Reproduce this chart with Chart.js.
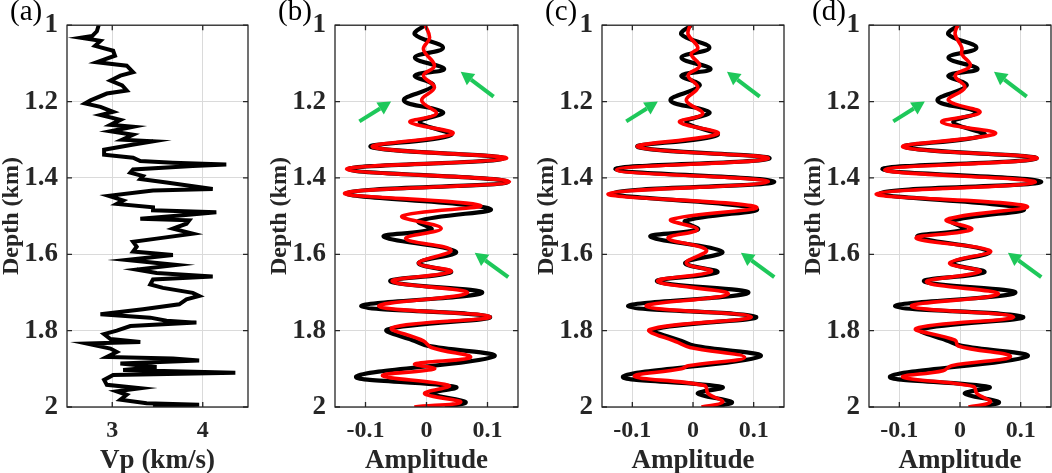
<!DOCTYPE html>
<html>
<head>
<meta charset="utf-8">
<script src="https://cdn.jsdelivr.net/npm/chart.js@4.4.1/dist/chart.umd.min.js"></script>
<style>
  body { margin: 0; background: #fff; }
  #wrap { position: relative; width: 1052px; height: 473px; overflow: hidden; }
  canvas { position: absolute; top: 0; }
</style>
</head>
<body>
<div id="wrap">
  <canvas id="pa"></canvas>
  <canvas id="pb"></canvas>
  <canvas id="pc"></canvas>
  <canvas id="pd"></canvas>
</div>
<script>
// tick labels
var depthTicks = [1, 1.2, 1.4, 1.6, 1.8, 2];
var vpTicks = [3, 4];
var ampTicks = [-0.1, 0, 0.1];

// (a) velocity log
var vpDepth = [1.000, 1.016, 1.028, 1.033, 1.041, 1.054, 1.067, 1.080, 1.097, 1.106,
  1.123, 1.132, 1.145, 1.158, 1.171, 1.179, 1.197, 1.205, 1.214, 1.227,
  1.235, 1.248, 1.261, 1.266, 1.278, 1.287, 1.300, 1.304, 1.313, 1.326,
  1.339, 1.347, 1.356, 1.360, 1.365, 1.369, 1.378, 1.386, 1.395, 1.403,
  1.412, 1.429, 1.433, 1.447, 1.459, 1.468, 1.477, 1.485, 1.490, 1.498,
  1.507, 1.511, 1.520, 1.533, 1.546, 1.559, 1.567, 1.580, 1.593, 1.602,
  1.615, 1.628, 1.640, 1.649, 1.658, 1.666, 1.679, 1.688, 1.701, 1.709,
  1.718, 1.731, 1.744, 1.753, 1.757, 1.766, 1.774, 1.779, 1.788, 1.800,
  1.809, 1.822, 1.830, 1.834, 1.847, 1.856, 1.869, 1.873, 1.878, 1.886,
  1.895, 1.903, 1.910, 1.916, 1.929, 1.942, 1.951, 1.959, 1.968, 1.981,
  1.990, 1.994, 2.000];
var vpValues = [2.85, 2.83, 2.78, 2.65, 2.87, 2.81, 3.01, 3.03, 2.83, 3.16,
  3.23, 3.09, 2.98, 3.11, 3.16, 2.94, 2.76, 2.70, 2.87, 3.01,
  2.87, 3.09, 2.98, 3.23, 2.98, 3.23, 3.11, 3.45, 3.22, 2.91,
  2.91, 3.23, 3.31, 3.67, 4.26, 3.89, 3.23, 3.20, 3.34, 3.31,
  3.60, 4.11, 3.45, 2.96, 3.12, 3.05, 3.45, 3.45, 4.15, 3.78,
  3.31, 3.85, 3.82, 3.67, 3.89, 3.49, 3.23, 3.27, 3.23, 3.67,
  3.16, 3.71, 3.27, 3.49, 4.11, 3.45, 3.42, 3.56, 3.89, 3.96,
  3.82, 3.74, 3.34, 3.01, 2.87, 3.42, 3.60, 3.93, 3.20, 3.05,
  2.91, 2.98, 3.31, 2.72, 2.98, 3.05, 2.94, 3.67, 3.96, 3.09,
  3.49, 3.12, 4.36, 3.01, 2.91, 2.94, 3.31, 3.05, 3.16, 3.09,
  3.38, 3.96, 3.45];

// observed trace (black), same in (b), (c), (d)
var obsDepth = [1.000, 1.024, 1.059, 1.085, 1.115, 1.132, 1.158, 1.197, 1.228, 1.254,
  1.288, 1.319, 1.349, 1.377, 1.410, 1.440, 1.481, 1.513, 1.535, 1.554,
  1.593, 1.623, 1.647, 1.671, 1.701, 1.736, 1.764, 1.797, 1.827, 1.840,
  1.868, 1.920, 1.948, 1.965, 1.987, 2.000];
var obsAmp = [-0.003, -0.019, 0.027, -0.019, 0.029, -0.019, 0.011, -0.037, 0.027, -0.011,
  0.040, -0.091, 0.126, -0.128, 0.134, -0.131, 0.104, -0.013, 0.008, -0.070,
  0.048, -0.013, 0.040, -0.059, 0.091, -0.107, 0.104, -0.064, -0.019, 0.003,
  0.110, -0.115, 0.048, 0.008, 0.064, 0.030];

// predicted traces (red)
var predBDepth = [1.000, 1.033, 1.063, 1.106, 1.132, 1.163, 1.197, 1.232, 1.254, 1.284,
  1.319, 1.349, 1.377, 1.410, 1.440, 1.472, 1.500, 1.532, 1.559, 1.589,
  1.623, 1.645, 1.671, 1.701, 1.736, 1.764, 1.792, 1.827, 1.844, 1.870,
  1.887, 1.900, 1.918, 1.944, 1.965, 1.987, 2.000];
var predBAmp = [-0.002, 0.005, -0.005, 0.013, -0.005, 0.013, -0.008, 0.016, -0.027, 0.043,
  -0.088, 0.131, -0.131, 0.136, -0.134, 0.088, -0.040, 0.024, -0.034, 0.040,
  -0.013, 0.040, -0.056, 0.067, -0.078, 0.104, -0.056, -0.005, 0.008, 0.072,
  -0.019, 0.013, -0.072, 0.037, -0.003, 0.056, -0.020];

var predCDepth = [1.000, 1.024, 1.059, 1.076, 1.106, 1.132, 1.163, 1.197, 1.232, 1.254,
  1.284, 1.319, 1.349, 1.379, 1.410, 1.442, 1.476, 1.509, 1.535, 1.558,
  1.589, 1.623, 1.645, 1.671, 1.704, 1.736, 1.764, 1.797, 1.831, 1.844,
  1.870, 1.892, 1.900, 1.920, 1.944, 1.965, 1.987, 2.000];
var predCAmp = [-0.005, -0.008, 0.008, -0.003, 0.011, -0.008, 0.008, -0.011, 0.016, -0.022,
  0.041, -0.091, 0.124, -0.126, 0.124, -0.140, 0.104, -0.036, 0.007, -0.041,
  0.022, -0.011, 0.030, -0.058, 0.058, -0.077, 0.096, -0.071, -0.025, -0.005,
  0.085, -0.008, -0.019, -0.096, 0.019, 0.025, 0.049, 0.014];

var predDDepth = [1.000, 1.024, 1.059, 1.076, 1.106, 1.132, 1.163, 1.197, 1.228, 1.254,
  1.284, 1.319, 1.349, 1.379, 1.411, 1.442, 1.474, 1.509, 1.535, 1.558,
  1.591, 1.623, 1.645, 1.673, 1.704, 1.736, 1.764, 1.794, 1.825, 1.840,
  1.868, 1.892, 1.905, 1.922, 1.946, 1.965, 1.987, 2.000];
var predDAmp = [-0.004, -0.008, 0.003, 0.003, 0.017, -0.008, 0.008, -0.019, 0.033, -0.030,
  0.058, -0.094, 0.127, -0.124, 0.124, -0.138, 0.110, -0.022, 0.019, -0.072,
  0.050, -0.017, 0.033, -0.055, 0.063, -0.080, 0.088, -0.072, -0.008, -0.003,
  0.083, -0.014, -0.028, -0.094, 0.022, 0.028, 0.050, 0.014];

// green arrows [x tail, depth tail, x head, depth head]
var arrows = [
  [-0.110, 1.252, -0.058, 1.200],
  [0.110, 1.187, 0.056, 1.122],
  [0.134, 1.660, 0.079, 1.596]
];

var serif = '"Liberation Serif", "Times New Roman", serif';

function pts(depth, vals) {
  return depth.map(function(d, i) { return { x: vals[i], y: d }; });
}

function fmt(v) { return String(+v.toFixed(2)); }

// frame, inward ticks, panel letter, arrows
var framePlugin = {
  id: 'frame',
  afterDatasetsDraw: function(chart, args, o) {
    var ctx = chart.ctx, a = chart.chartArea;
    var xs = chart.scales.x, ys = chart.scales.y;
    ctx.save();
    // arrows
    (o.arrows || []).forEach(function(ar) {
      var x0 = xs.getPixelForValue(ar[0]), y0 = ys.getPixelForValue(ar[1]);
      var x1 = xs.getPixelForValue(ar[2]), y1 = ys.getPixelForValue(ar[3]);
      var ang = Math.atan2(y1 - y0, x1 - x0), hl = 13, hw = 7;
      var bx = x1 - hl * Math.cos(ang), by = y1 - hl * Math.sin(ang);
      ctx.strokeStyle = '#1ec85a';
      ctx.fillStyle = '#1ec85a';
      ctx.lineWidth = 4;
      ctx.beginPath(); ctx.moveTo(x0, y0); ctx.lineTo(bx, by); ctx.stroke();
      ctx.beginPath();
      ctx.moveTo(x1, y1);
      ctx.lineTo(bx + hw * Math.sin(ang), by - hw * Math.cos(ang));
      ctx.lineTo(bx - hw * Math.sin(ang), by + hw * Math.cos(ang));
      ctx.closePath(); ctx.fill();
    });
    // box
    ctx.strokeStyle = '#262626';
    ctx.lineWidth = 1.3;
    ctx.strokeRect(a.left, a.top, a.right - a.left, a.bottom - a.top);
    // inward ticks
    ctx.beginPath();
    ys.ticks.forEach(function(t) {
      var y = ys.getPixelForValue(t.value);
      ctx.moveTo(a.left, y); ctx.lineTo(a.left + 5, y);
      ctx.moveTo(a.right, y); ctx.lineTo(a.right - 5, y);
    });
    xs.ticks.forEach(function(t) {
      var x = xs.getPixelForValue(t.value);
      ctx.moveTo(x, a.bottom); ctx.lineTo(x, a.bottom - 5);
      ctx.moveTo(x, a.top); ctx.lineTo(x, a.top + 5);
    });
    ctx.stroke();
    // panel letter
    ctx.fillStyle = '#000';
    ctx.font = '29px ' + serif;
    ctx.textAlign = 'left';
    ctx.textBaseline = 'middle';
    ctx.fillText(o.letter, a.left - 57, 12);
    ctx.restore();
  }
};

function makePanel(id, plotLeft, plotRight, rightPad, xMin, xMax, xTicks, xTitle, datasets, letter, arr) {
  var cv = document.getElementById(id);
  var yAxisW = 67;
  cv.width = plotRight - plotLeft + yAxisW + rightPad;
  cv.height = 473;
  cv.style.left = (plotLeft - yAxisW) + 'px';
  return new Chart(cv, {
    type: 'scatter',
    data: { datasets: datasets },
    options: {
      responsive: false,
      animation: false,
      layout: { padding: { top: 21, right: rightPad, bottom: 0, left: 0 } },
      plugins: { legend: { display: false }, tooltip: { enabled: false }, frame: { letter: letter, arrows: arr } },
      elements: { point: { radius: 0 } },
      scales: {
        x: {
          type: 'linear', min: xMin, max: xMax,
          afterBuildTicks: function(s) { s.ticks = xTicks.map(function(v) { return { value: v }; }); },
          afterFit: function(s) { s.height = 66; },
          grid: { color: '#dadada', lineWidth: 1, drawTicks: false },
          border: { display: false },
          ticks: { padding: 9, color: '#262626', font: { family: serif, size: 24, weight: 'bold' }, callback: fmt, maxRotation: 0 },
          title: { display: true, text: xTitle, color: '#262626', padding: 0, font: { family: serif, size: 27, weight: 'bold', lineHeight: 0.9 } }
        },
        y: {
          type: 'linear', min: 1, max: 2, reverse: true,
          afterBuildTicks: function(s) { s.ticks = depthTicks.map(function(v) { return { value: v }; }); },
          afterFit: function(s) { s.width = yAxisW; },
          grid: { color: '#dadada', lineWidth: 1, drawTicks: false },
          border: { display: false },
          ticks: { padding: 9, color: '#262626', font: { family: serif, size: 27, weight: 'bold' }, callback: fmt },
          title: { display: true, text: 'Depth (km)', color: '#262626', padding: { top: 0, bottom: 0 }, font: { family: serif, size: 24, weight: 'bold', lineHeight: 1 } }
        }
      }
    },
    plugins: [framePlugin]
  });
}

function blackSet(depth, vals, w) {
  return { data: pts(depth, vals), showLine: true, borderColor: '#000', borderWidth: w, tension: 0.4, pointRadius: 0 };
}
function redSet(depth, vals) {
  return { data: pts(depth, vals), showLine: true, borderColor: '#ff0000', borderWidth: 3.6, tension: 0.4, pointRadius: 0 };
}

// red listed first so that it is drawn over the black trace
makePanel('pa', 67, 248, 12, 2.5, 4.5, vpTicks, 'Vp (km/s)',
  [{ data: pts(vpDepth, vpValues), showLine: true, borderColor: '#000', borderWidth: 4, tension: 0, pointRadius: 0 }],
  '(a)', []);
makePanel('pb', 335, 518, 12, -0.15, 0.15, ampTicks, 'Amplitude',
  [redSet(predBDepth, predBAmp), blackSet(obsDepth, obsAmp, 4.2)], '(b)', arrows);
makePanel('pc', 602, 784, 11, -0.15, 0.15, ampTicks, 'Amplitude',
  [redSet(predCDepth, predCAmp), blackSet(obsDepth, obsAmp, 4.2)], '(c)', arrows);
makePanel('pd', 869, 1051, 1, -0.15, 0.15, ampTicks, 'Amplitude',
  [redSet(predDDepth, predDAmp), blackSet(obsDepth, obsAmp, 4.2)], '(d)', arrows);
</script>
</body>
</html>
